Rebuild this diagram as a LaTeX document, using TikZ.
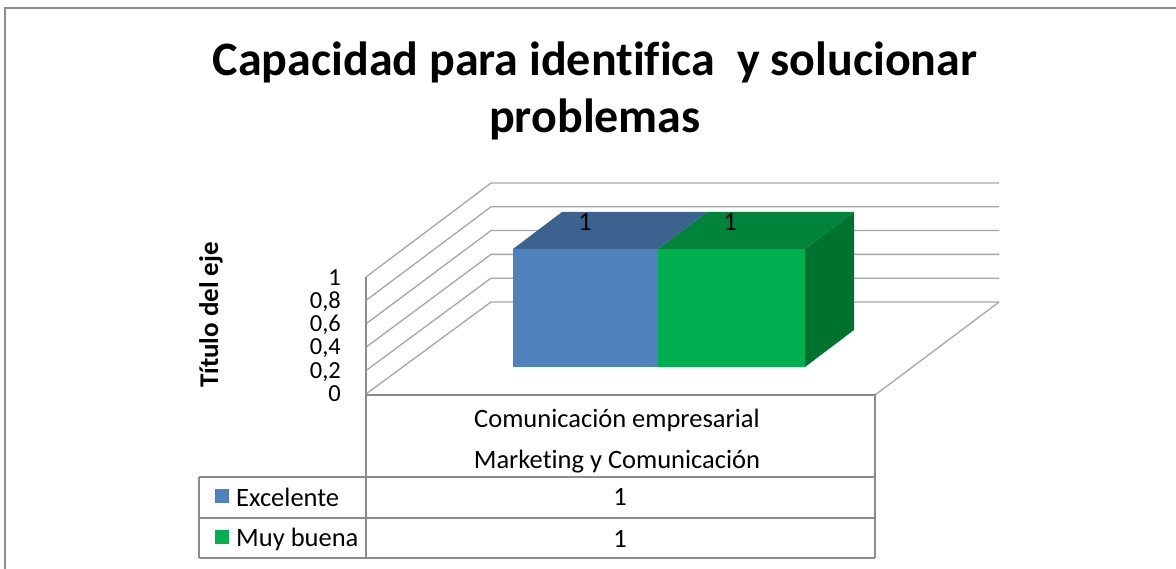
\documentclass[tikz,border=0pt]{standalone}
\usepackage{fontspec}
\setmainfont{Carlito}[Ligatures=NoCommon]
\definecolor{gridc}{HTML}{A6A6A6}
\definecolor{framec}{HTML}{8C8C8C}
\definecolor{bluefront}{HTML}{4F81BD}
\definecolor{bluetop}{HTML}{3C6390}
\definecolor{greenfront}{HTML}{00B050}
\definecolor{greentop}{HTML}{00843C}
\definecolor{greenside}{HTML}{00722F}
\tikzset{
  grid/.style={draw=gridc, line width=1.3pt},
  tbl/.style={draw=framec, line width=1.5pt},
  lbl/.style={font=\fontsize{26.5}{30}\selectfont, inner sep=0pt},
  tick/.style={font=\fontsize{24.5}{26}\selectfont, inner sep=0pt, anchor=east, text height=12pt, text depth=3pt},
}
\begin{document}
\begin{tikzpicture}[x=1pt,y=-1pt]
\useasboundingbox (0,0) rectangle (1176,569);
\fill[white] (0,0) rectangle (1176,569);
\draw[framec, line width=1.5pt] (5,569) -- (5,8) -- (1176,8);
% title
\node[font=\bfseries\fontsize{48}{57}\selectfont, align=center, inner sep=0pt] (title) at (595,91) {Capacidad para identifica\ \ y solucionar\\problemas};
% gridlines
\foreach \i in {0,...,5} {
  \draw[grid] (366,{394-\i*23.4}) -- (491,{302-\i*23.8}) -- (999,{302-\i*23.8});
}
\draw[grid] (999,302) -- (875,395);
% bars
\fill[bluefront] (513,249) rectangle (658,367);
\fill[bluetop] (513,249) -- (562,212) -- (707,212) -- (658,249) -- cycle;
\fill[greenfront] (658,249) rectangle (805,367);
\fill[greentop] (658,249) -- (707,212) -- (854,212) -- (805,249) -- cycle;
\fill[greenside] (805,249) -- (854,212) -- (854,330) -- (805,367) -- cycle;
\node[lbl] (v1) at (585,222) {1};
\node[lbl] (v2) at (730,222) {1};
% axis ticks
\node[tick] (t10) at (341,281) {1};
\node[tick] (t08) at (341,304) {0,8};
\node[tick] (t06) at (341,327) {0,6};
\node[tick] (t04) at (341,350) {0,4};
\node[tick] (t02) at (341,374) {0,2};
\node[tick] (t00) at (341,397) {0};
\node[font=\bfseries\fontsize{27}{30}\selectfont, rotate=90, inner sep=0pt] (axt) at (211,315) {Título del eje};
% table
\draw[tbl] (366,277) -- (366,558);
\draw[tbl] (366,395) -- (875,395) -- (875,558);
\draw[tbl] (199,477) -- (875,477);
\draw[tbl] (199,518) -- (875,518);
\draw[tbl] (199,558) -- (875,558);
\draw[tbl] (199,477) -- (199,558);
\node[lbl] (c1) at (617,420) {Comunicación empresarial};
\node[lbl] (c2) at (617,462) {Marketing y Comunicación};
\fill[bluefront] (215,489) rectangle (229,503);
\node[lbl, anchor=west] (e) at (236,497) {Excelente};
\fill[greenfront] (215,530) rectangle (229,544);
\node[lbl, anchor=west] (m) at (236,539) {Muy buena};
\node[lbl] (e1) at (620,497) {1};
\node[lbl] (m1) at (620,539) {1};
\end{tikzpicture}
\end{document}
